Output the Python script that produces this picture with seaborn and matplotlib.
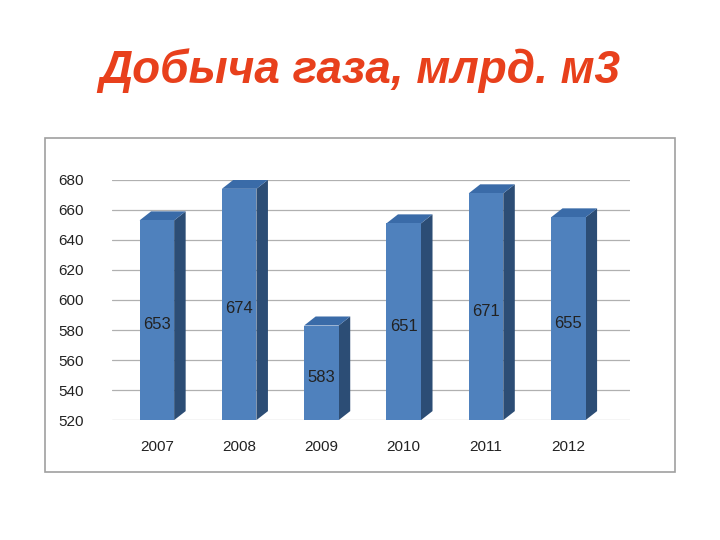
import matplotlib
matplotlib.use("Agg")
import matplotlib.pyplot as plt
import seaborn as sns
import pandas as pd
from matplotlib.patches import Polygon, Rectangle

years = ["2007", "2008", "2009", "2010", "2011", "2012"]
values = [653, 674, 583, 651, 671, 655]
yticks = list(range(520, 681, 20))

sns.set_theme(style="white")
plt.rcParams['font.family'] = ['Liberation Sans', 'DejaVu Sans']

fig = plt.figure(figsize=(7.2, 5.4), dpi=100)
fig.patches.append(Rectangle((45/720, 1-472/540), 630/720, 334/540, transform=fig.transFigure,
                             fill=False, edgecolor="#a0a0a0", lw=1.2))
fig.text(0.5, 0.87, "Добыча газа, млрд. м3", ha="center", va="center", color="#e8401c",
         fontsize=33, fontweight="bold", fontstyle="italic")

ax = fig.add_axes([0.155, 0.222, 0.72, 0.445])
df = pd.DataFrame({"year": years, "value": values})
sns.barplot(data=df, x="year", y="value", color="#4f81bd", saturation=1, width=0.42,
            linewidth=0, edgecolor="none", ax=ax, zorder=3)
ax.set_ylim(520, 680)
ax.set_yticks(yticks)
for t in yticks:
    ax.axhline(t, color="#b0b0b0", lw=0.9, zorder=0)
for s in ax.spines.values():
    s.set_visible(False)
ax.set_xlabel(""); ax.set_ylabel("")
ax.tick_params(axis="both", length=0, labelsize=11, colors="#222222")
ax.tick_params(axis="y", pad=20)
ax.tick_params(axis="x", pad=14)

# faux 3D depth derived from bar patches
dx, dy = 0.14, 6
for p, v in zip(ax.patches, values):
    x0, w = p.get_x(), p.get_width()
    x1 = x0 + w
    ax.add_patch(Polygon([(x1, 520), (x1 + dx, 520 + dy), (x1 + dx, v + dy), (x1, v)],
                         closed=True, facecolor="#2c4d75", edgecolor="none", zorder=2))
    ax.add_patch(Polygon([(x0, v), (x0 + dx, v + dy), (x1 + dx, v + dy), (x1, v)],
                         closed=True, facecolor="#3a6ba8", edgecolor="none", zorder=2))
    ax.text(x0 + w / 2, (520 + v) / 2 - 3, str(v), ha="center", va="center",
            fontsize=12, color="#222222", zorder=5)
ax.set_xlim(-0.55, 5.75)
fig.savefig("out.png", dpi=100)
